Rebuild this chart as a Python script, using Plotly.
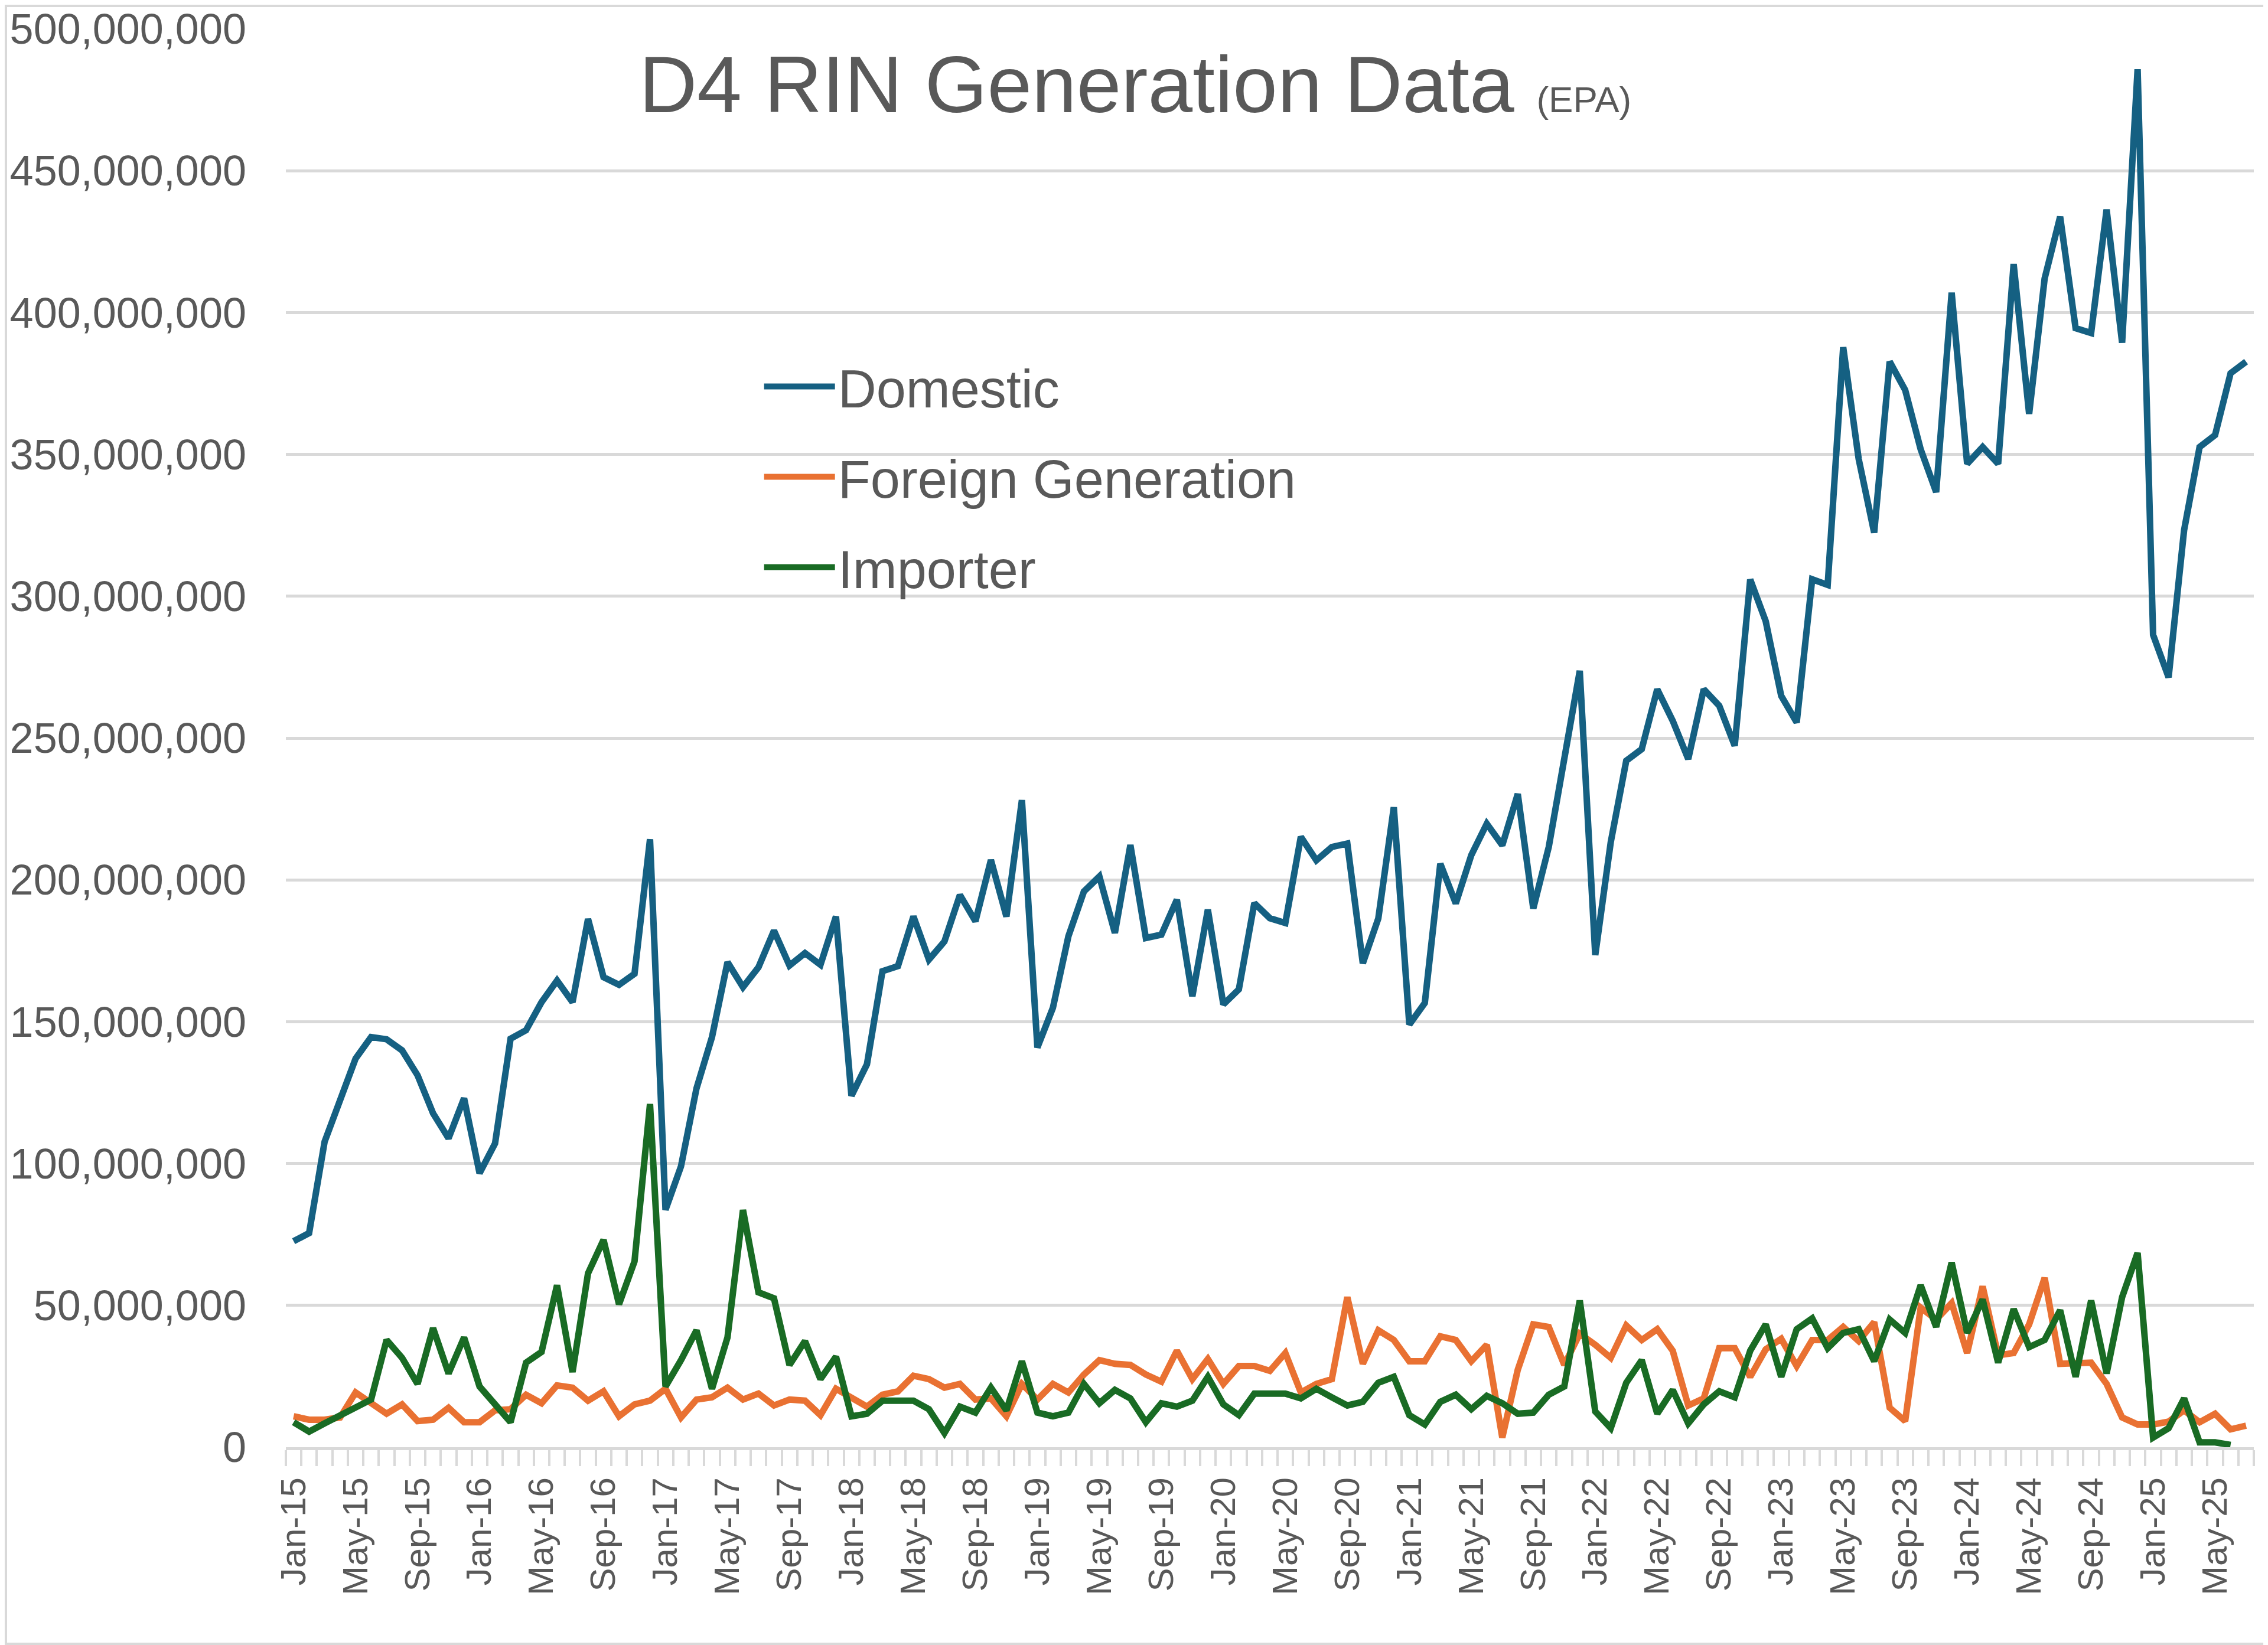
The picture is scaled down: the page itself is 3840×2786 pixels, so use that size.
import pandas as pd
import plotly.graph_objects as go

# monthly D4 RIN generation, millions of RINs
months = pd.date_range("2015-01-01", "2025-07-01", freq="MS").strftime("%b-%y").tolist()

domestic = [
    72.6, 75.5, 107.7, 123, 137, 144.6, 143.8, 139.9, 131.1, 117.7,
    108.9, 123, 96.6, 107.1, 144, 147, 156.9, 164.5, 156.9, 186.2,
    165.7, 163, 166.9, 214.3, 83.7, 99, 126.5, 144.6, 171, 162.2,
    169.2, 182.1, 169.8, 174.2, 170.1, 187.1, 123.9, 135, 167.8, 169.6,
    187.1, 171.9, 178.3, 194.7, 185.4, 207, 187.1, 228.1, 140.9, 154.9,
    180.1, 195.9, 201.2, 181.3, 212.3, 179.5, 180.7, 193, 159, 189.5,
    156.1, 161.4, 191.8, 186.5, 184.8, 215.2, 206.9, 211.6, 212.8, 170.6,
    186.4, 225.6, 149, 156.6, 205.7, 191.7, 208.7, 219.8, 212.2, 230.3,
    189.9, 211.6, 243.2, 273.7, 173.5, 213.3, 242, 246.1, 267.2, 256.1,
    242.6, 267.2, 261.4, 247.3, 305.9, 291.2, 264.9, 255.5, 306, 304,
    387.8, 348.4, 322.4, 382.7, 372.7, 351.8, 336.7, 407, 346.7, 352.6,
    346.7, 417.1, 364.3, 412, 433.8, 394.5, 392.8, 436.3, 389.4, 485.8,
    286.4, 271.4, 323.3, 352.6, 356.8, 378.6, 382.7,
]

foreign = [
    10.9, 9.7, 9.7, 10.5, 19.3, 15.5, 11.8, 15.1, 9.2, 9.7,
    13.9, 8.8, 8.8, 13, 13.4, 18.5, 15.5, 21.8, 21, 16.4,
    19.7, 10.9, 15.1, 16.4, 20.6, 10.5, 16.8, 17.6, 21, 16.8,
    18.9, 14.7, 16.8, 16.4, 11.3, 20.6, 17.2, 14.3, 18.5, 19.7,
    25.2, 24, 21, 22.3, 16.8, 17.2, 10.9, 22.3, 16.8, 22.3,
    19.3, 25.6, 30.7, 29.4, 29, 25.6, 23.1, 34, 24, 31.1,
    22.3, 28.6, 28.6, 26.9, 33.2, 19.3, 22.3, 24, 52.9, 29.4,
    41.2, 37.8, 30.3, 30.3, 39.1, 37.8, 30.3, 36.1, 3.4, 27.3,
    43.3, 42.4, 29, 40, 36.1, 31.5, 42.9, 37.8, 41.6, 34,
    14.7, 17.2, 34.9, 34.9, 24.8, 34.5, 38.2, 28.6, 37.8, 37.8,
    42.4, 37.4, 44.1, 13.9, 9.2, 49.2, 45, 50.8, 33.2, 56.7,
    32.4, 33.2, 43.3, 59.7, 29.4, 29.8, 29.8, 22.3, 10.5, 8,
    8, 9, 13, 8.8, 11.8, 6.3, 7.6,
]

importer = [
    8.8, 5.5, 8.4, 11.3, 14.3, 16.8, 37.8, 31.5, 22.3, 42,
    26, 38.7, 21.4, 14.7, 8.8, 29.8, 33.6, 57.1, 26.5, 61.3,
    73.1, 50.4, 65.5, 121, 21.4, 30.7, 41.2, 20.6, 38.7, 83.6,
    54.6, 52.5, 29, 37.4, 24, 31.9, 10.9, 11.8, 16.4, 16.4,
    16.4, 13.4, 5, 14.3, 12.2, 21, 13, 30.3, 12.2, 10.9,
    12.2, 22.3, 15.5, 20.2, 17.2, 8.8, 15.5, 14.3, 16.4, 24.8,
    15.1, 11.3, 18.9, 18.9, 18.9, 17.2, 20.6, 17.6, 14.7, 16,
    22.7, 24.8, 11.3, 8, 16, 18.5, 13.4, 18.1, 15.5, 11.8,
    12.2, 18.5, 21.4, 51.7, 12.6, 6.7, 22.7, 30.7, 11.8, 20.2,
    8.4, 15.1, 19.7, 17.6, 34, 43.3, 24.8, 41.6, 45.4, 34.9,
    40.3, 41.6, 30.3, 45, 40.3, 57.1, 42.4, 65.1, 40.3, 52.1,
    29.8, 48.7, 35.3, 37.8, 48.3, 24.8, 51.7, 26, 52.9, 68.5,
    3.4, 6.7, 17.2, 1.7, 1.7, 0.8,
]

series = [
    ("Domestic", domestic, "#156082"),
    ("Foreign Generation", foreign, "#E97132"),
    ("Importer", importer, "#196B24"),
]

# page body adds an 8px margin, so the figure is 8px smaller than the window
W, H = 3832, 2778
ML, MR, MT, MB = 476, 24, 41, 335
GREY = "#595959"
GRID = "#D9D9D9"
FONT = "Liberation Sans, Arial, sans-serif"

fig = go.Figure()
for name, vals, color in series:
    fig.add_trace(go.Scatter(
        x=list(range(len(vals))),
        y=[v * 1e6 for v in vals],
        name=name,
        legendgroup=name,
        mode="lines",
        line=dict(color=color, width=11),
    ))

tick_idx = list(range(0, len(months), 4))

fig.update_layout(
    width=W, height=H,
    margin=dict(l=ML, r=MR, t=MT, b=MB),
    paper_bgcolor="white",
    plot_bgcolor="white",
    font=dict(family=FONT, color=GREY),
    showlegend=True,
    legend=dict(
        x=0.2415, y=0.775, xanchor="left", yanchor="top",
        font=dict(size=90, color=GREY, family=FONT),
        bgcolor="rgba(0,0,0,0)",
        tracegroupgap=33,
        itemwidth=120,
    ),
    annotations=[dict(
        text="D4 RIN Generation Data <span style='font-size:62px'>(EPA)</span>",
        x=0.4317, y=0.961, xref="paper", yref="paper",
        xanchor="center", yanchor="middle", showarrow=False,
        font=dict(size=136, color=GREY, family=FONT),
    )],
    shapes=[dict(
        type="rect", xref="paper", yref="paper",
        x0=-(ML - 2) / (W - ML - MR), x1=1 + (MR - 2) / (W - ML - MR),
        y0=-(MB - 2) / (H - MT - MB), y1=1 + (MT - 2) / (H - MT - MB),
        line=dict(color=GRID, width=4), layer="below",
    )],
)

fig.update_xaxes(
    range=[-0.5, len(months) - 0.5],
    tickmode="array",
    tickvals=tick_idx,
    ticktext=[months[i] for i in tick_idx],
    tickangle=-90,
    tickfont=dict(size=60, color=GREY, family=FONT),
    ticks="",
    ticklabelstandoff=22,
    automargin=False,
    showgrid=False,
    zeroline=False,
    showline=True, linecolor=GRID, linewidth=5,
    minor=dict(tick0=-0.5, dtick=1, ticks="outside", ticklen=27,
               tickcolor=GRID, tickwidth=4, showgrid=False),
)

fig.update_yaxes(
    range=[0, 500e6],
    tick0=0, dtick=50e6,
    tickformat=",d",
    tickfont=dict(size=72, color=GREY, family=FONT),
    ticks="",
    ticklabelstandoff=66,
    automargin=False,
    showgrid=True, gridcolor=GRID, gridwidth=5,
    zeroline=False,
    showline=False,
)

fig.write_html("out.html")
